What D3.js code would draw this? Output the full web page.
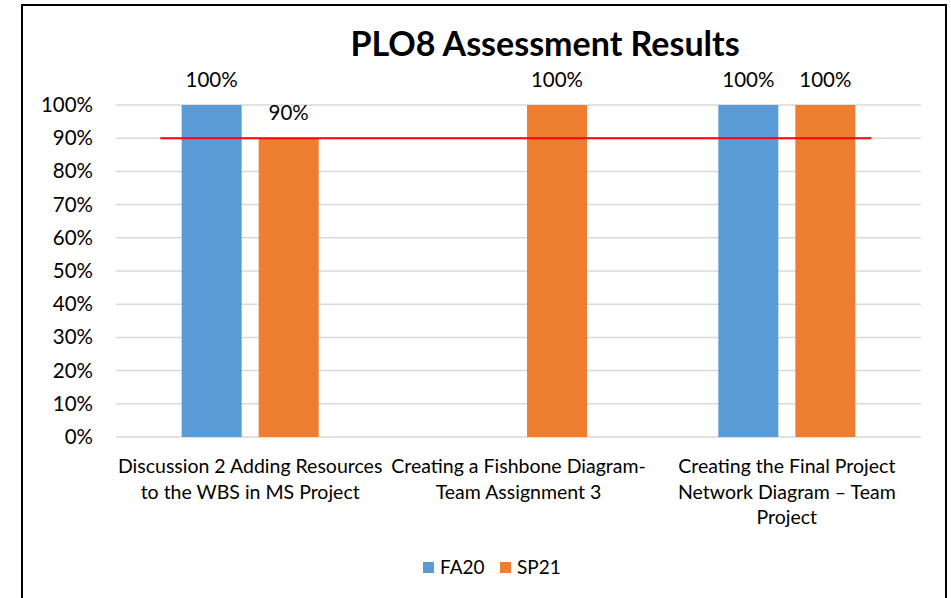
<!DOCTYPE html>
<html>
<head>
<meta charset="utf-8">
<script src="https://cdn.jsdelivr.net/npm/d3@7"></script>
<style>
  html, body { margin: 0; padding: 0; background: #fff; }
  svg { display: block; font-family: Lato, "Open Sans", sans-serif; }
</style>
</head>
<body>
<svg id="chart" width="951" height="598"></svg>
<script>
const title = "PLO8 Assessment Results";
const categoryLines = [
  ["Discussion 2 Adding Resources", "to the WBS in MS Project"],
  ["Creating a Fishbone Diagram-", "Team Assignment 3"],
  ["Creating the Final Project", "Network Diagram \u2013 Team", "Project"]
];
const categories = categoryLines.map(l => l.join(" "));
const seriesNames = ["FA20", "SP21"];
const fa20 = [1.0, null, 1.0];
const sp21 = [0.9, 1.0, 1.0];
const target = 0.9;
const yTicks = [0, 0.1, 0.2, 0.3, 0.4, 0.5, 0.6, 0.7, 0.8, 0.9, 1.0];
const colors = ["#5B9BD5", "#ED7D31"];

const svg = d3.select("#chart");
const W = 951, H = 598;
const m = { left: 116, right: 30, top: 105, bottom: 161 };
const FONT = "Lato, 'Open Sans', sans-serif";

// frame
svg.append("rect").attr("x", 22).attr("y", 5).attr("width", 924).attr("height", 620)
  .attr("fill", "none").attr("stroke", "#000").attr("stroke-width", 2);

const x = d3.scaleBand().domain(categories).range([m.left, W - m.right]).padding(0);
const y = d3.scaleLinear().domain([0, 1]).range([H - m.bottom, m.top]);
const bw = x.bandwidth();
const barW = bw * 0.2236, gap = bw * 0.0634;

// gridlines
svg.append("g").selectAll("line").data(yTicks).join("line")
  .attr("x1", m.left).attr("x2", W - m.right)
  .attr("y1", d => y(d)).attr("y2", d => y(d))
  .attr("stroke", "#D9D9D9").attr("stroke-width", 1.5);

// y axis labels
const yAxis = d3.axisLeft(y).tickValues(yTicks).tickFormat(d3.format(".0%")).tickSize(0).tickPadding(0);
const yg = svg.append("g").attr("transform", `translate(${m.left - 23},0)`).call(yAxis);
yg.select(".domain").remove();
yg.selectAll("text").attr("font-size", 20.5).attr("fill", "#000").attr("font-family", FONT);

// bars
const series = [fa20, sp21];
function barX(ci, si) {
  const c = x(categories[ci]) + bw / 2;
  return si === 0 ? c - gap / 2 - barW : c + gap / 2;
}
series.forEach((vals, si) => {
  const data = vals.map((v, i) => ({ v, i })).filter(d => d.v !== null);
  const g = svg.append("g");
  g.selectAll("rect").data(data).join("rect")
    .attr("x", d => barX(d.i, si)).attr("width", barW)
    .attr("y", d => y(d.v)).attr("height", d => y(0) - y(d.v))
    .attr("fill", colors[si]);
  g.selectAll("text").data(data).join("text")
    .attr("x", d => barX(d.i, si) + barW / 2).attr("y", d => y(d.v) - 18.5)
    .attr("text-anchor", "middle").attr("font-size", 20.5).attr("fill", "#000")
    .text(d => d3.format(".0%")(d.v));
});

// target line
svg.append("line")
  .attr("x1", x(categories[0]) + bw * 0.165)
  .attr("x2", x(categories[categories.length - 1]) + bw * 0.815)
  .attr("y1", y(target)).attr("y2", y(target))
  .attr("stroke", "#FF0000").attr("stroke-width", 2);

// category labels
categoryLines.forEach((lines, i) => {
  const t = svg.append("text").attr("text-anchor", "middle").attr("font-size", 19.5).attr("fill", "#000");
  lines.forEach((ln, k) => {
    t.append("tspan").attr("x", x(categories[i]) + bw / 2).attr("y", y(0) + 36 + k * 25.5).text(ln);
  });
});

// title
svg.append("text").attr("x", 545).attr("y", 56).attr("text-anchor", "middle")
  .attr("font-size", 34).attr("font-weight", "bold").attr("fill", "#000").text(title);

// legend
const lg = svg.append("g");
const legX = [423, 500];
seriesNames.forEach((s, i) => {
  lg.append("rect").attr("x", legX[i]).attr("y", 562).attr("width", 11).attr("height", 11).attr("fill", colors[i]);
  lg.append("text").attr("x", legX[i] + 17).attr("y", 574).attr("font-size", 19).attr("fill", "#000").text(s);
});
</script>
</body>
</html>
